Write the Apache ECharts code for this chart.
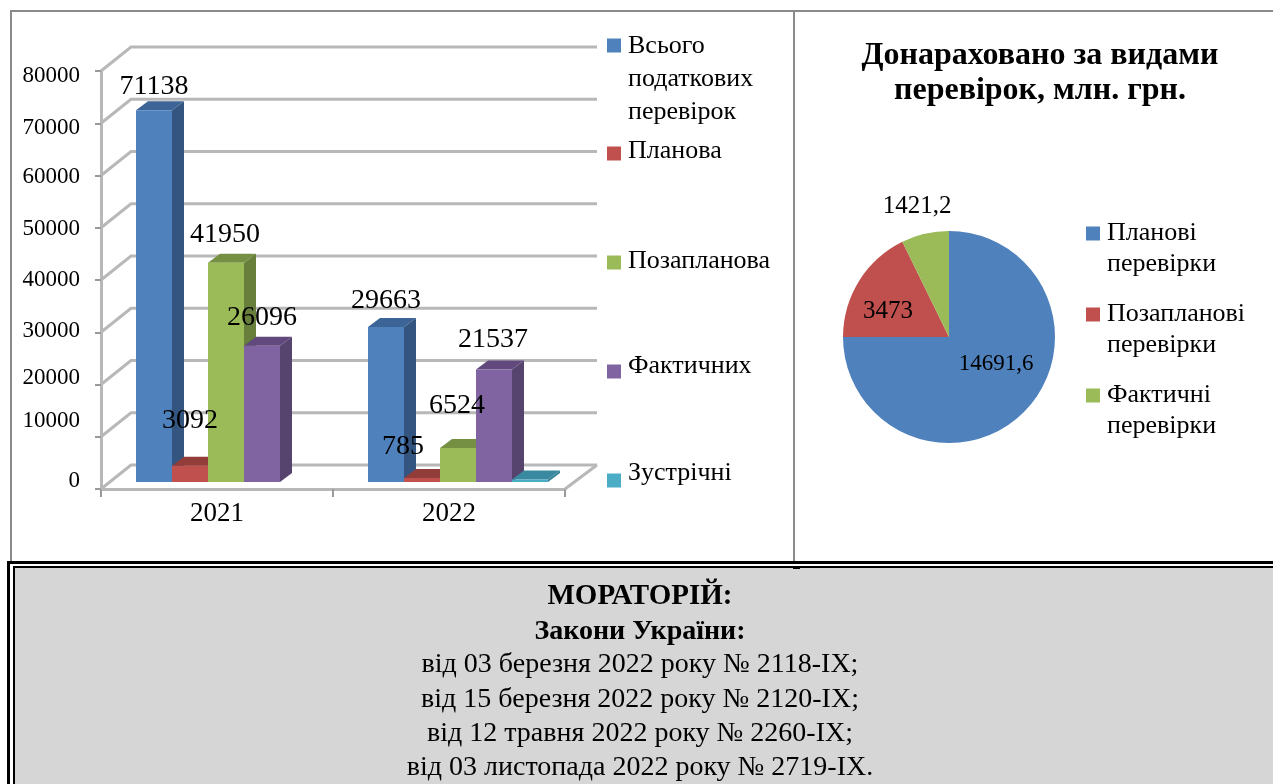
<!DOCTYPE html>
<html>
<head>
<meta charset="utf-8">
<script src="https://cdn.jsdelivr.net/npm/echarts@6/dist/echarts.min.js"></script>
<style>
  html, body { margin: 0; padding: 0; background: #fff; }
  #chart { width: 1273px; height: 784px; }
</style>
</head>
<body>
<div id="chart"></div>
<script>
const FONT = '"Liberation Serif", "Times New Roman", serif'

const years = ['2021', '2022']
const yTicks = [0, 10000, 20000, 30000, 40000, 50000, 60000, 70000, 80000]

const barNames = ['Всього\nподаткових\nперевірок', 'Планова', 'Позапланова', 'Фактичних', 'Зустрічні']
const totalChecks = [71138, 29663]
const plannedChecks = [3092, 785]
const unplannedChecks = [41950, 6524]
const actualChecks = [26096, 21537]
const counterChecks = [null, 500]
const barValues = [totalChecks, plannedChecks, unplannedChecks, actualChecks, counterChecks]

const pieNames = ['Планові\nперевірки', 'Позапланові\nперевірки', 'Фактичні\nперевірки']
const pieValues = [14691.6, 3473, 1421.2]

const titleText = 'Донараховано за видами\nперевірок, млн. грн.'
const noteLines = [
  'МОРАТОРІЙ:',
  'Закони України:',
  'від 03 березня 2022 року № 2118-ІХ;',
  'від 15 березня 2022 року № 2120-ІХ;',
  'від 12 травня 2022 року № 2260-ІХ;',
  'від 03 листопада 2022 року № 2719-ІХ.'
]

const BAR_COLORS = ['#4f81bd', '#c0504d', '#9bbb59', '#8064a2', '#4bacc6']
const SIDE_COLORS = ['#34557f', '#823634', '#687e3b', '#56436e', '#338095']
const TOP_COLORS = ['#3c6496', '#923d3a', '#758f43', '#61497d', '#398aa0']
const PIE_COLORS = ['#4f81bd', '#c0504d', '#9bbb59']

// сдвиг подписей значений над столбцом: [вверх, вправо]
const labelLift = [
  [[24, 0], [26, 0]],
  [[45, 0], [31, -19]],
  [[28, -1], [42, -1]],
  [[28, 0], [30, -1]]
]
// подписи оси Y в оригинале стоят неровно
const tickNudge = { 0: -8, 10000: -16, 20000: -7, 30000: -1, 40000: 0, 50000: 1, 60000: 1, 70000: 5, 80000: 5 }

const DEPTH_X = 30, DEPTH_Y = 24       // глубина стен
const BAR_W = 36, BAR_DX = 12, BAR_DY = 9
const BAND_PAD = 35                    // от начала группы до первого столбца
const GRID_COLOR = '#b8b8b8'

function tickRich() {
  const rich = {}
  yTicks.forEach((t, i) => {
    const d = tickNudge[t]
    rich['t' + i] = {
      fontFamily: FONT, fontSize: 23, color: '#000',
      padding: d < 0 ? [0, 0, -2 * d, 0] : [2 * d, 0, 0, 0]
    }
  })
  return rich
}

function renderWall(params, api) {
  const box = params.coordSys
  const y = api.coord([0, api.value(1)])[1]
  const x0 = box.x, x1 = box.x + box.width
  const children = [{
    type: 'polyline',
    shape: { points: [[x0, y], [x0 + DEPTH_X, y - DEPTH_Y], [x1 + DEPTH_X + 2, y - DEPTH_Y]] },
    style: { stroke: GRID_COLOR, lineWidth: 3, fill: null }
  }]
  if (api.value(1) === 0) {
    children.push({
      type: 'polyline',
      shape: { points: [[x1, y], [x1 + DEPTH_X + 2, y - DEPTH_Y]] },
      style: { stroke: GRID_COLOR, lineWidth: 3, fill: null }
    })
  }
  return { type: 'group', children }
}

function makeRenderBar(seriesIdx) {
  return function (params, api) {
    const cat = api.value(0)
    const val = api.value(1)
    if (val == null || isNaN(val)) return null
    const box = params.coordSys
    const bandW = box.width / years.length
    const left = box.x + bandW * cat + BAND_PAD + seriesIdx * BAR_W
    const base = api.coord([cat, 0])[1] - 7
    const top = api.coord([cat, val])[1] - 7
    const right = left + BAR_W
    const children = [
      {
        type: 'polygon',
        shape: { points: [[right, base], [right, top], [right + BAR_DX, top - BAR_DY], [right + BAR_DX, base - BAR_DY]] },
        style: { fill: SIDE_COLORS[seriesIdx] }
      },
      {
        type: 'polygon',
        shape: { points: [[left, top], [left + BAR_DX, top - BAR_DY], [right + BAR_DX, top - BAR_DY], [right, top]] },
        style: { fill: TOP_COLORS[seriesIdx] }
      },
      {
        type: 'rect',
        shape: { x: left, y: top, width: BAR_W, height: base - top },
        style: { fill: BAR_COLORS[seriesIdx] }
      }
    ]
    if (labelLift[seriesIdx]) {
      const [lift, shift] = labelLift[seriesIdx][cat]
      children.push({
        type: 'text',
        z2: 100,
        style: {
          text: String(val),
          x: left + BAR_W / 2 + shift,
          y: top - lift,
          align: 'center',
          verticalAlign: 'middle',
          font: '28px ' + FONT,
          fill: '#000'
        }
      })
    }
    return { type: 'group', children }
  }
}

// Легенда: маркер стоит напротив первой строки, поэтому текст добиваем
// пустыми строчками нужной высоты сверху или снизу
function makeLegend(name, left, markerY, lineH, textOff) {
  const lines = name.split('\n')
  const diff = 2 * textOff + (lines.length - 1) * lineH
  const above = Math.max(diff, 0)
  const below = Math.max(-diff, 0)
  const parts = lines.map((l) => `{t|${l}}`)
  if (above > 0) parts.unshift('{a| }')
  if (below > 0) parts.push('{b| }')
  const boxH = below + lines.length * lineH
  return {
    data: [name],
    left,
    // подобрано по картинке: верхняя пустая строчка в высоту блока не входит
    top: markerY - boxH / 2 + (below > 0 ? 4 : 1),
    orient: 'vertical',
    selectedMode: false,
    icon: 'rect',
    itemWidth: 14,
    itemHeight: 14,
    padding: 0,
    formatter: () => parts.join('\n'),
    textStyle: {
      padding: [0, 0, 0, 2],
      rich: {
        t: { fontFamily: FONT, fontSize: 26, color: '#000', lineHeight: lineH },
        a: { fontSize: 1, lineHeight: above },
        b: { fontSize: 1, lineHeight: below }
      }
    }
  }
}

const barMarkerY = [44, 153, 262, 371, 480]
const barTextOff = [1, -2, -1, -5, -7]
const pieMarkerY = [232, 313, 394]

const legends = [
  ...barNames.map((n, i) => makeLegend(n, 607, barMarkerY[i], 33, barTextOff[i])),
  ...pieNames.map((n, i) => makeLegend(n, 1086, pieMarkerY[i], 31, 0))
]

const noteY = [597, 632, 665, 700, 734, 768]
const graphic = [
  { type: 'rect', shape: { x: 7, y: 561, width: 1266, height: 223 }, style: { fill: '#000' }, z: -10 },
  { type: 'rect', shape: { x: 10, y: 564, width: 1263, height: 220 }, style: { fill: '#fff' }, z: -9 },
  { type: 'rect', shape: { x: 13, y: 566, width: 1260, height: 218 }, style: { fill: '#000' }, z: -8 },
  { type: 'rect', shape: { x: 15, y: 568, width: 1258, height: 216 }, style: { fill: '#d6d6d6' }, z: -7 },
  { type: 'rect', shape: { x: 10, y: 10, width: 1263, height: 2 }, style: { fill: '#8a8a8a' }, z: -6 },
  { type: 'rect', shape: { x: 10, y: 10, width: 2, height: 551 }, style: { fill: '#8a8a8a' }, z: -6 },
  { type: 'rect', shape: { x: 793, y: 10, width: 2, height: 551 }, style: { fill: '#8a8a8a' }, z: -6 },
  { type: 'rect', shape: { x: 793, y: 568, width: 7, height: 1 }, style: { fill: '#000' }, z: -6 }
]
noteLines.forEach((line, i) => {
  graphic.push({
    type: 'text',
    x: 640,
    y: noteY[i],
    style: {
      text: line,
      align: 'center',
      verticalAlign: 'middle',
      font: (i === 0 ? 'bold 29px ' : i === 1 ? 'bold 28px ' : '28px ') + FONT,
      fill: '#000'
    }
  })
})

// точки подписей круговой диаграммы
const pieLabelAt = [[996, 364, 23], [888, 311, 25], [917, 206, 25]]

const option = {
  animation: false,
  backgroundColor: '#fff',
  title: {
    text: titleText,
    left: 1035,
    top: 33,
    textAlign: 'center',
    textStyle: { fontFamily: FONT, fontSize: 32, fontWeight: 'bold', color: '#000', lineHeight: 35 }
  },
  legend: legends,
  grid: { left: 101, top: 71, width: 464, height: 418 },
  xAxis: {
    type: 'category',
    data: years,
    axisLine: { lineStyle: { color: GRID_COLOR, width: 3 } },
    axisTick: { show: true, length: 8, lineStyle: { color: '#999', width: 2 } },
    axisLabel: { fontFamily: FONT, fontSize: 27, color: '#000', margin: 11 }
  },
  yAxis: {
    type: 'value',
    min: 0,
    max: 80000,
    interval: 10000,
    splitLine: { show: false },
    axisLine: { show: true, lineStyle: { color: GRID_COLOR, width: 3 } },
    axisTick: { show: true, length: 6, lineStyle: { color: '#999', width: 2 } },
    axisLabel: {
      margin: 21,
      formatter: (v) => `{t${yTicks.indexOf(v)}|${v}}`,
      rich: tickRich()
    }
  },
  series: [
    {
      type: 'custom',
      name: 'walls',
      silent: true,
      renderItem: renderWall,
      data: yTicks.map((t) => [0, t])
    },
    ...barNames.map((name, i) => ({
      type: 'custom',
      name,
      silent: true,
      itemStyle: { color: BAR_COLORS[i] },
      renderItem: makeRenderBar(i),
      encode: { x: 0, y: 1 },
      data: barValues[i].map((v, c) => [c, v])
    })),
    {
      type: 'pie',
      silent: true,
      center: [949, 337],
      radius: [0, 106],
      startAngle: 90,
      clockwise: true,
      color: PIE_COLORS,
      itemStyle: { borderWidth: 0 },
      data: pieNames.map((name, i) => ({ name, value: pieValues[i] })),
      labelLine: { show: false },
      label: {
        show: true,
        position: 'inside',
        fontFamily: FONT,
        color: '#000',
        fontSize: 23,
        formatter: (p) => String(p.value).replace('.', ',')
      },
      labelLayout: (p) => ({
        x: pieLabelAt[p.dataIndex][0],
        y: pieLabelAt[p.dataIndex][1],
        align: 'center',
        verticalAlign: 'middle',
        fontSize: pieLabelAt[p.dataIndex][2]
      })
    }
  ],
  graphic
}

const chart = echarts.init(document.getElementById('chart'), null, { renderer: 'canvas' })
chart.setOption(option)
</script>
</body>
</html>
